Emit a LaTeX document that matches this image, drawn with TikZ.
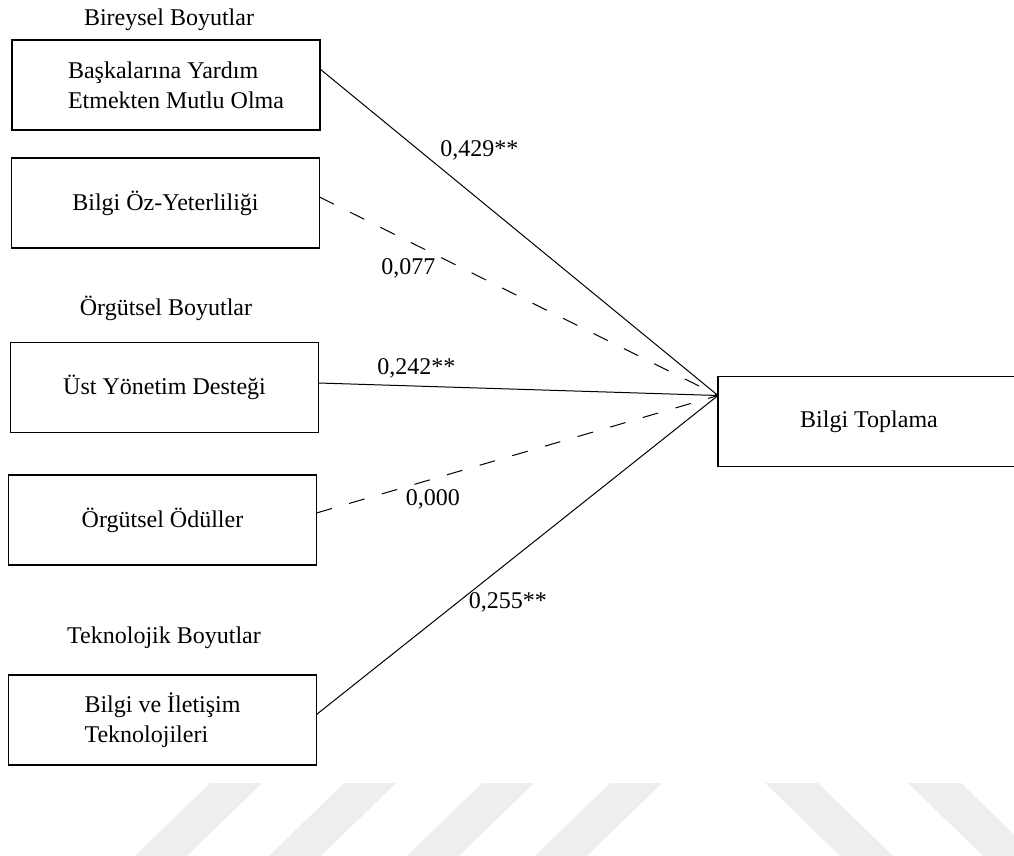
\documentclass[tikz,border=0pt]{standalone}
\usepackage{fontspec}
\setmainfont{Liberation Serif}
\definecolor{stripe}{HTML}{EEEEEE}

\begin{document}
\begin{tikzpicture}[%
    x=1pt, y=-1pt,       % one unit is one pixel, y grows downwards
    writing/.style={%
      font=\fontsize{24}{30}\selectfont, % serif writing
      text=black         % black letters
    },
    factor/.style={%
      rectangle,         % plain box
      draw=black,        % black outside edge
      line width=1.6pt,  %              and thick
      minimum width=308pt,
      minimum height=90pt,
      inner sep=0pt,
      outer sep=0pt,
      writing            % writing style above
    },
    heading/.style={%
      writing,           % writing style above
      anchor=base        % sit on the baseline
    },
    effect/.style={%
      line width=1pt,    % thin line
      draw=black
    },
    weak/.style={%
      effect,            % like an effect
      dash pattern=on 16pt off 18pt % but dashed
    }
]

    \useasboundingbox (0,0) rectangle (1014,856);

    % watermark
    \foreach \x in {135,269,407,535}
      \fill[stripe] (\x,856) -- ++(52,0) -- ++(75,-73) -- ++(-52,0) -- cycle;
    \foreach \x in {765,908}
      \fill[stripe] (\x,783) -- ++(53,0) -- ++(75,73) -- ++(-53,0) -- cycle;

    % headings
    \node at (169,26)  [heading] (individual)    {Bireysel Boyutlar};
    \node at (166,315) [heading] (organisation)  {Örgütsel Boyutlar};
    \node at (164,643) [heading] (technology)    {Teknolojik Boyutlar};

    % nodes
    \node at (166,85)    [factor,align=left] (helping)
      {\hspace*{20pt}Başkalarına Yardım\\\hspace*{20pt}Etmekten Mutlu Olma};
    \node at (165.5,203) [factor] (efficacy)  {Bilgi Öz-Yeterliliği};
    \node at (164.5,387.5) [factor] (support) {Üst Yönetim Desteği};
    \node at (162.5,520) [factor] (rewards)   {Örgütsel Ödüller};
    \node at (162.5,720) [factor,align=left] (ict)
      {Bilgi ve İletişim\\Teknolojileri};

    \node at (869,421.5) [factor,minimum width=302pt] (gathering) {Bilgi Toplama};
    \coordinate (hub) at ([yshift=26pt]gathering.west);

    % connections with coefficients
    \draw[effect]
    ([yshift=16pt]helping.east) --
    node[pos=0.25,anchor=west,xshift=17pt,writing] {0,429**}
    (hub);

    \draw[weak]
    ([yshift=6pt]efficacy.east) --
    node[pos=0.223,yshift=-27pt,writing] {0,077}
    (hub);

    \draw[effect]
    ([yshift=4.5pt]support.east) --
    node[pos=0.245,yshift=18pt,writing] {0,242**}
    (hub);

    \draw[weak]
    ([yshift=7pt]rewards.east) --
    node[pos=0.29,yshift=-20pt,writing] {0,000}
    (hub);

    \draw[effect]
    ([yshift=5.5pt]ict.east) --
    node[pos=0.35,anchor=west,xshift=8pt,writing] {0,255**}
    (hub);

\end{tikzpicture}
\end{document}
